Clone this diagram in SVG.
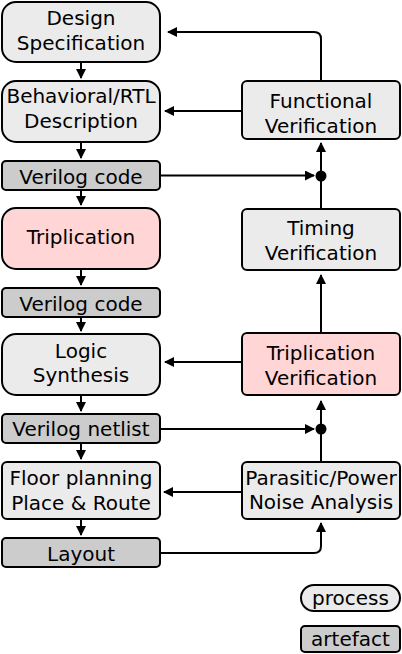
<svg xmlns="http://www.w3.org/2000/svg" width="402" height="654" viewBox="0 0 402 654">
<defs>
<marker id="ah" viewBox="0 0 10 10" refX="9" refY="5" markerWidth="5" markerHeight="5" orient="auto" markerUnits="strokeWidth">
<path d="M0,0 L10,5 L0,10 z" fill="#000"/>
</marker>
<style>
.proc{fill:#ebebeb;stroke:#000;stroke-width:2}
.art{fill:#cccccc;stroke:#000;stroke-width:2}
.pink{fill:#ffd5d5;stroke:#000;stroke-width:2}
text{font-family:"DejaVu Sans",sans-serif;font-size:20px;text-anchor:middle;fill:#000}
.c{fill:none;stroke:#000;stroke-width:2;marker-end:url(#ah)}
.l{fill:none;stroke:#000;stroke-width:2}
</style>
</defs>
<rect width="402" height="654" fill="#fff"/>
<g id="connectors">
<path class="c" d="M81,62 V78"/>
<path class="c" d="M81,142 V158"/>
<path class="c" d="M81,190 V205"/>
<path class="c" d="M81,269 V285"/>
<path class="c" d="M81,317 V331"/>
<path class="c" d="M81,395 V411"/>
<path class="c" d="M81,443 V459"/>
<path class="c" d="M81,519 V535"/>
<path class="c" d="M321,81 V39 Q321,32 314,32 H168"/>
<path class="c" d="M242,111 H165"/>
<path class="c" d="M160,175.5 H314"/>
<path class="c" d="M321,176 V143"/>
<path class="l" d="M321,209 V176"/>
<path class="c" d="M321,333 V275"/>
<path class="c" d="M242,362 H165"/>
<path class="c" d="M160,429 H314"/>
<path class="c" d="M321,429 V401"/>
<path class="l" d="M321,462 V429"/>
<path class="c" d="M242,492 H164"/>
<path class="c" d="M160,553 H314 Q321,553 321,546 V523"/>
<circle cx="321" cy="176" r="5.5" fill="#000"/>
<circle cx="321" cy="429" r="5.5" fill="#000"/>
</g>
<g id="design-spec"><rect class="proc" x="2" y="2" width="158" height="60" rx="14"/><text x="81" y="25">Design</text><text x="81" y="50">Specification</text></g>
<g id="behavioral"><rect class="proc" x="2" y="81" width="158" height="61" rx="14"/><text x="81" y="103">Behavioral/RTL</text><text x="81" y="128">Description</text></g>
<g id="verilog-code-1"><rect class="art" x="2" y="161" width="158" height="29" rx="4"/><text x="81" y="184">Verilog code</text></g>
<g id="triplication"><rect class="pink" x="2" y="208" width="158" height="61" rx="14"/><text x="81" y="244">Triplication</text></g>
<g id="verilog-code-2"><rect class="art" x="2" y="288" width="158" height="29" rx="4"/><text x="81" y="311">Verilog code</text></g>
<g id="logic-synthesis"><rect class="proc" x="2" y="334" width="158" height="61" rx="14"/><text x="81" y="358">Logic</text><text x="81" y="382">Synthesis</text></g>
<g id="verilog-netlist"><rect class="art" x="2" y="414" width="158" height="29" rx="4"/><text x="81" y="436">Verilog netlist</text></g>
<g id="floor-planning"><rect class="proc" x="2" y="462" width="158" height="57" rx="5"/><text x="81" y="485">Floor planning</text><text x="81" y="510">Place &amp; Route</text></g>
<g id="layout"><rect class="art" x="2" y="538" width="158" height="29" rx="4"/><text x="81" y="561">Layout</text></g>
<g id="functional-verification"><rect class="proc" x="242" y="81" width="158" height="58" rx="5"/><text x="321" y="108">Functional</text><text x="321" y="133">Verification</text></g>
<g id="timing-verification"><rect class="proc" x="242" y="209" width="158" height="61" rx="5"/><text x="321" y="235">Timing</text><text x="321" y="260">Verification</text></g>
<g id="triplication-verification"><rect class="pink" x="242" y="333" width="158" height="62" rx="5"/><text x="321" y="360">Triplication</text><text x="321" y="385">Verification</text></g>
<g id="parasitic"><rect class="proc" x="242" y="462" width="158" height="57" rx="5"/><text x="321" y="485">Parasitic/Power</text><text x="321" y="509">Noise Analysis</text></g>
<g id="legend-process"><rect class="proc" x="301" y="585" width="99" height="26" rx="13"/><text x="350.5" y="605">process</text></g>
<g id="legend-artefact"><rect class="art" x="301" y="626" width="99" height="26" rx="4"/><text x="350.5" y="646">artefact</text></g>
</svg>
